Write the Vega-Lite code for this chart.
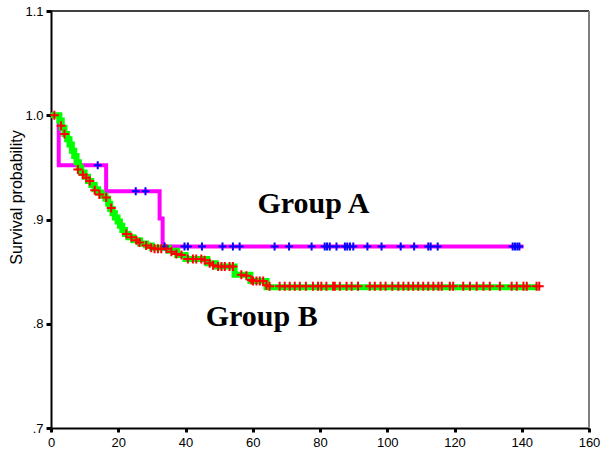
{
  "$schema": "https://vega.github.io/schema/vega-lite/v6.json",
  "width": 538,
  "height": 417,
  "autosize": {"type": "none"},
  "padding": {"left": 51, "top": 11, "right": 13, "bottom": 28},
  "background": "white",
  "config": {"view": {"stroke": null}, "axis": {"grid": false}},
  "datasets": {
    "curveA": [
      {"t": 0, "v": 1.0}, {"t": 2.3, "v": 0.952}, {"t": 16.4, "v": 0.927}, {"t": 32.3, "v": 0.901}, {"t": 33.2, "v": 0.874}, {"t": 140.5, "v": 0.874}
    ],
    "curveB": [
      {"t": 0, "v": 1.0}, {"t": 2.5, "v": 0.995}, {"t": 3.2, "v": 0.988}, {"t": 4.0, "v": 0.982}, {"t": 4.8, "v": 0.977}, {"t": 5.5, "v": 0.972},
      {"t": 6.2, "v": 0.966}, {"t": 6.9, "v": 0.961}, {"t": 7.6, "v": 0.955}, {"t": 8.3, "v": 0.95}, {"t": 9.0, "v": 0.945}, {"t": 10.0, "v": 0.941},
      {"t": 11.0, "v": 0.937}, {"t": 12.0, "v": 0.933}, {"t": 13.0, "v": 0.929}, {"t": 14.0, "v": 0.926}, {"t": 15.0, "v": 0.923}, {"t": 16.2, "v": 0.92},
      {"t": 17.0, "v": 0.915}, {"t": 17.6, "v": 0.91}, {"t": 18.3, "v": 0.906}, {"t": 19.0, "v": 0.902}, {"t": 19.8, "v": 0.898}, {"t": 20.5, "v": 0.894},
      {"t": 21.2, "v": 0.89}, {"t": 22.0, "v": 0.886}, {"t": 23.0, "v": 0.883}, {"t": 24.5, "v": 0.88}, {"t": 26.5, "v": 0.877}, {"t": 28.3, "v": 0.875},
      {"t": 30.0, "v": 0.873}, {"t": 35.0, "v": 0.87}, {"t": 37.5, "v": 0.866}, {"t": 40.0, "v": 0.862}, {"t": 46.5, "v": 0.858}, {"t": 49.0, "v": 0.855},
      {"t": 54.6, "v": 0.847}, {"t": 59.3, "v": 0.841}, {"t": 64.1, "v": 0.835}, {"t": 145.0, "v": 0.835}
    ],
    "censorA": [
      {"t": 13.9, "v": 0.952}, {"t": 25.2, "v": 0.927}, {"t": 28.1, "v": 0.927},
      {"t": 33.8, "v": 0.874}, {"t": 39.7, "v": 0.874}, {"t": 40.7, "v": 0.874}, {"t": 44.9, "v": 0.874}, {"t": 51.0, "v": 0.874}, {"t": 54.1, "v": 0.874},
      {"t": 56.1, "v": 0.874}, {"t": 66.5, "v": 0.874}, {"t": 70.8, "v": 0.874}, {"t": 77.5, "v": 0.874}, {"t": 81.4, "v": 0.874}, {"t": 82.1, "v": 0.874},
      {"t": 82.9, "v": 0.874}, {"t": 84.9, "v": 0.874}, {"t": 87.4, "v": 0.874}, {"t": 88.1, "v": 0.874}, {"t": 88.9, "v": 0.874}, {"t": 89.9, "v": 0.874},
      {"t": 94.1, "v": 0.874}, {"t": 98.3, "v": 0.874}, {"t": 104.0, "v": 0.874}, {"t": 108.0, "v": 0.874}, {"t": 112.2, "v": 0.874}, {"t": 112.9, "v": 0.874},
      {"t": 115.0, "v": 0.874}, {"t": 137.3, "v": 0.874}, {"t": 138.0, "v": 0.874}, {"t": 138.7, "v": 0.874}, {"t": 139.3, "v": 0.874}
    ],
    "censorB": [
      {"t": 1.0, "v": 1.0}, {"t": 3.0, "v": 0.99}, {"t": 4.0, "v": 0.982}, {"t": 8.0, "v": 0.948}, {"t": 9.5, "v": 0.943}, {"t": 10.5, "v": 0.94},
      {"t": 11.5, "v": 0.937}, {"t": 13.0, "v": 0.928}, {"t": 14.4, "v": 0.924}, {"t": 16.4, "v": 0.921}, {"t": 17.9, "v": 0.911}, {"t": 22.4, "v": 0.886},
      {"t": 23.9, "v": 0.883}, {"t": 25.4, "v": 0.88}, {"t": 26.3, "v": 0.878}, {"t": 28.3, "v": 0.875}, {"t": 29.8, "v": 0.873}, {"t": 30.8, "v": 0.872},
      {"t": 31.8, "v": 0.872}, {"t": 32.8, "v": 0.872}, {"t": 34.3, "v": 0.872}, {"t": 35.8, "v": 0.869}, {"t": 37.3, "v": 0.867}, {"t": 38.8, "v": 0.866},
      {"t": 40.7, "v": 0.862}, {"t": 42.2, "v": 0.862}, {"t": 43.2, "v": 0.862}, {"t": 44.7, "v": 0.862}, {"t": 45.7, "v": 0.861}, {"t": 47.2, "v": 0.858},
      {"t": 48.2, "v": 0.856}, {"t": 49.7, "v": 0.855}, {"t": 50.7, "v": 0.855}, {"t": 51.7, "v": 0.855}, {"t": 53.1, "v": 0.855}, {"t": 54.1, "v": 0.855},
      {"t": 56.6, "v": 0.847}, {"t": 58.1, "v": 0.846}, {"t": 59.6, "v": 0.842}, {"t": 60.1, "v": 0.841}, {"t": 61.1, "v": 0.841}, {"t": 62.1, "v": 0.841},
      {"t": 63.1, "v": 0.841}, {"t": 64.1, "v": 0.837},
      {"t": 65.0, "v": 0.836}, {"t": 68.0, "v": 0.836}, {"t": 69.5, "v": 0.836}, {"t": 71.0, "v": 0.836}, {"t": 72.5, "v": 0.836}, {"t": 74.0, "v": 0.836},
      {"t": 75.8, "v": 0.836}, {"t": 77.9, "v": 0.836}, {"t": 79.4, "v": 0.836}, {"t": 80.4, "v": 0.836}, {"t": 81.9, "v": 0.836}, {"t": 83.9, "v": 0.836},
      {"t": 84.4, "v": 0.836}, {"t": 85.9, "v": 0.836}, {"t": 87.9, "v": 0.836}, {"t": 89.4, "v": 0.836}, {"t": 91.3, "v": 0.836}, {"t": 94.8, "v": 0.836},
      {"t": 96.3, "v": 0.836}, {"t": 98.0, "v": 0.836}, {"t": 99.5, "v": 0.836}, {"t": 101.5, "v": 0.836}, {"t": 103.3, "v": 0.836}, {"t": 104.8, "v": 0.836},
      {"t": 106.3, "v": 0.836}, {"t": 107.7, "v": 0.836}, {"t": 109.2, "v": 0.836}, {"t": 110.7, "v": 0.836}, {"t": 112.2, "v": 0.836}, {"t": 113.7, "v": 0.836},
      {"t": 115.2, "v": 0.836}, {"t": 116.2, "v": 0.836}, {"t": 118.6, "v": 0.836}, {"t": 119.6, "v": 0.836}, {"t": 122.6, "v": 0.836}, {"t": 124.6, "v": 0.836},
      {"t": 126.6, "v": 0.836}, {"t": 128.6, "v": 0.836}, {"t": 130.5, "v": 0.836}, {"t": 133.5, "v": 0.836}, {"t": 137.0, "v": 0.836}, {"t": 138.5, "v": 0.836},
      {"t": 140.5, "v": 0.836}, {"t": 141.5, "v": 0.836}, {"t": 144.4, "v": 0.836}, {"t": 145.2, "v": 0.836}
    ],
    "labels": [
      {"t": 61.4, "v": 0.906, "label": "Group A"},
      {"t": 46.0, "v": 0.798, "label": "Group B"}
    ],
    "frameTop": [{"v": 1.1}],
    "frameRight": [{"t": 160}]
  },
  "layer": [
    {
      "data": {"name": "curveA"},
      "mark": {"type": "line", "interpolate": "step-after", "color": "#FF00FF", "strokeWidth": 4},
      "encoding": {
        "x": {
          "field": "t", "type": "quantitative",
          "scale": {"domain": [0, 160], "nice": false, "zero": false},
          "axis": {
            "title": null, "values": [0, 20, 40, 60, 80, 100, 120, 140, 160],
            "domainColor": "black", "domainWidth": 2,
            "tickColor": "black", "tickSize": 4, "tickWidth": 3,
            "labelFont": "Liberation Sans", "labelFontSize": 13, "labelColor": "black", "labelPadding": 4,
            "labelFlush": false, "labelOverlap": false
          }
        },
        "y": {
          "field": "v", "type": "quantitative",
          "scale": {"domain": [0.7, 1.1], "nice": false, "zero": false},
          "axis": {
            "title": "Survival probability", "values": [0.7, 0.8, 0.9, 1.0, 1.1],
            "labelExpr": "datum.value >= 1 ? format(datum.value, '.1f') : '.' + format(datum.value * 10, '.0f')",
            "domainColor": "black", "domainWidth": 2,
            "tickColor": "black", "tickSize": 5, "tickWidth": 3,
            "labelFont": "Liberation Sans", "labelFontSize": 13, "labelColor": "black", "labelPadding": 3,
            "labelFlush": false, "labelOverlap": false,
            "titleFont": "Liberation Sans", "titleFontSize": 16, "titleFontWeight": "normal", "titleColor": "black",
            "titleX": -30, "titleY": 186, "titleAngle": -90, "titleAlign": "center", "titleBaseline": "alphabetic"
          }
        }
      }
    },
    {
      "data": {"name": "curveB"},
      "mark": {"type": "line", "interpolate": "step-after", "color": "#00FF00", "strokeWidth": 6},
      "encoding": {
        "x": {"field": "t", "type": "quantitative"},
        "y": {"field": "v", "type": "quantitative"}
      }
    },
    {
      "data": {"name": "censorA"},
      "mark": {"type": "point", "shape": "M-1,0H1M0,-1V1", "filled": false, "color": "#0000FF", "strokeWidth": 2, "size": 64, "opacity": 1},
      "encoding": {
        "x": {"field": "t", "type": "quantitative"},
        "y": {"field": "v", "type": "quantitative"}
      }
    },
    {
      "data": {"name": "censorB"},
      "mark": {"type": "point", "shape": "M-1,0H1M0,-1V1", "filled": false, "color": "#FF0000", "strokeWidth": 2, "size": 81, "opacity": 1},
      "encoding": {
        "x": {"field": "t", "type": "quantitative"},
        "y": {"field": "v", "type": "quantitative"}
      }
    },
    {
      "data": {"name": "frameTop"},
      "mark": {"type": "rule", "color": "black", "strokeWidth": 1.5},
      "encoding": {"y": {"field": "v", "type": "quantitative"}}
    },
    {
      "data": {"name": "frameRight"},
      "mark": {"type": "rule", "color": "#808080", "strokeWidth": 2},
      "encoding": {"x": {"field": "t", "type": "quantitative"}}
    },
    {
      "data": {"name": "labels"},
      "mark": {"type": "text", "align": "left", "baseline": "alphabetic", "font": "Liberation Serif", "fontWeight": "bold", "fontSize": 30, "color": "black"},
      "encoding": {
        "x": {"field": "t", "type": "quantitative"},
        "y": {"field": "v", "type": "quantitative"},
        "text": {"field": "label"}
      }
    }
  ]
}
